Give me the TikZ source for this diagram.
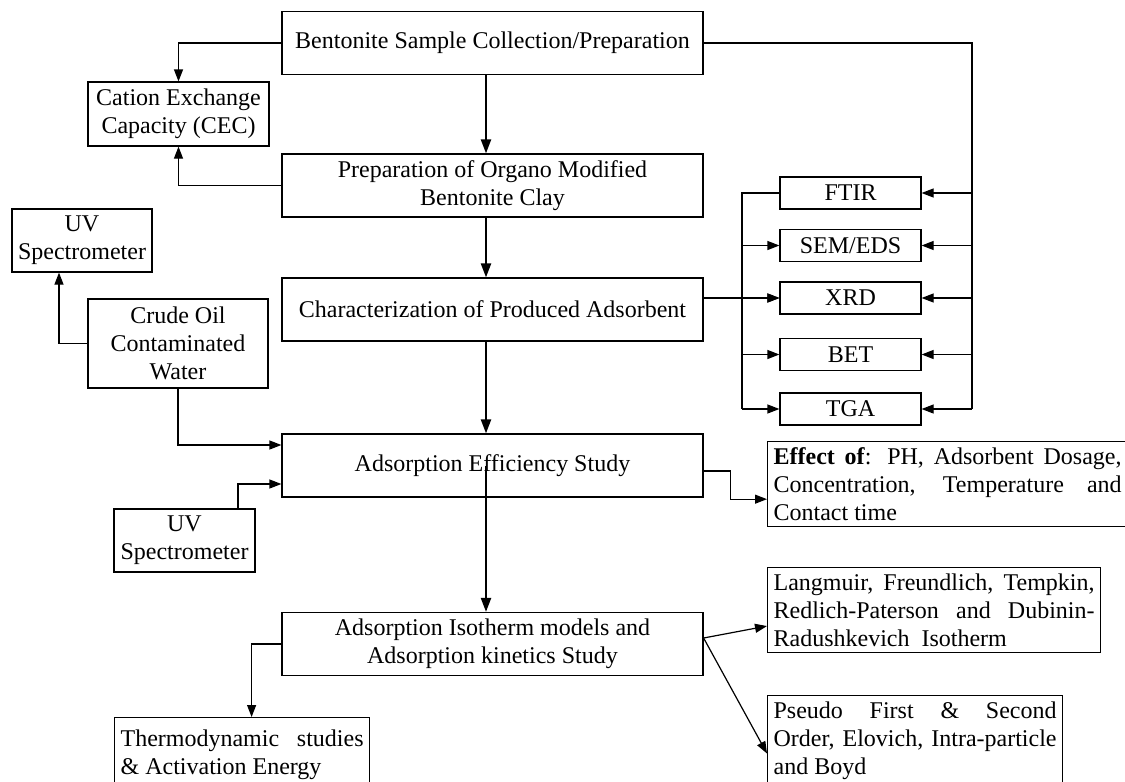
\documentclass[tikz,border=0pt]{standalone}
\usepackage{fontspec}
\setmainfont{Liberation Serif}
\usetikzlibrary{arrows.meta}

\begin{document}
\begin{tikzpicture}[x=0.5pt,y=-0.5pt,
        box/.style={draw, line width=0.6pt, inner sep=3pt, align=center, font=\fontsize{12}{14}\selectfont},
        mainbox/.style={box, minimum width=210.5pt, minimum height=31.5pt},
        testbox/.style={box, minimum width=70.5pt, minimum height=16pt},
        notebox/.style={box, anchor=north west, align=justify},
        arr/.style={line width=0.6pt, -{Triangle[length=6pt,width=4.5pt]}},
        mainarr/.style={line width=1.1pt, -{Triangle[length=7pt,width=5pt]}}]
        \useasboundingbox (0,0) rectangle (1125,782);

        % main column
        \node[mainbox] (bent) at (492.5,43) {Bentonite Sample Collection/Preparation};
        \node[mainbox] (prep) at (492.5,185.5) {Preparation of Organo Modified\\Bentonite Clay};
        \node[mainbox] (char) at (492.5,309.5) {Characterization of Produced Adsorbent};
        \node[mainbox] (eff) at (492.5,465.5) {Adsorption Efficiency Study};
        \node[mainbox] (iso) at (492.5,644) {Adsorption Isotherm models and\\Adsorption kinetics Study};

        % left side
        \node[box, minimum width=90.5pt, minimum height=32pt] (cec) at (178.5,114) {Cation Exchange\\Capacity (CEC)};
        \node[box, minimum width=90pt, minimum height=44.5pt] (crude) at (178,343.5) {Crude Oil\\Contaminated\\Water};
        \node[box, minimum width=70pt, minimum height=31.5pt] (uvone) at (82,240.5) {UV\\Spectrometer};
        \node[box, minimum width=70.5pt, minimum height=31.5pt] (uvtwo) at (184.5,540.5) {UV\\Spectrometer};
        \node[notebox, text width=121.5pt, minimum height=37pt] (thermo) at (114,717) {Thermodynamic studies\linebreak \& Activation Energy};

        % characterization tests
        \node[testbox] (ftir) at (850.5,193) {FTIR};
        \node[testbox] (sem) at (850.5,245.5) {SEM/EDS};
        \node[testbox] (xrd) at (850.5,298) {XRD};
        \node[testbox] (bet) at (850.5,354.5) {BET};
        \node[testbox] (tga) at (850.5,409) {TGA};

        % right notes
        \node[notebox, text width=174pt] (effect) at (767,441) {\textbf{Effect of}: PH, Adsorbent Dosage, Concentration, Temperature and Contact time};
        \node[notebox, text width=160.5pt] (lang) at (767,567) {Langmuir, Freundlich, Tempkin,\linebreak Redlich-Paterson and Dubinin-\linebreak Radushkevich\ \ Isotherm};
        \node[notebox, text width=141.5pt] (pseudo) at (767,695) {Pseudo First \& Second\linebreak Order, Elovich, Intra-particle\linebreak and Boyd};

        \coordinate (rbus) at (972,0);
        \coordinate (lbus) at (742,0);

        % main flow
        \draw[mainarr] ([xshift=-3.25pt]bent.south) -- ([xshift=-3.25pt]prep.north);
        \draw[mainarr] ([xshift=-3.25pt]prep.south) -- ([xshift=-3.25pt]char.north);
        \draw[mainarr] ([xshift=-3.25pt]char.south) -- ([xshift=-3.25pt]eff.north);
        \draw[mainarr] ([xshift=-3.25pt]eff.center) -- ([xshift=-3.25pt]iso.north);

        % CEC
        \draw[arr] (bent.west) -| (cec.north);
        \draw[arr] (prep.west) -| (cec.south);

        % tests
        \draw[line width=0.6pt] (bent.east) -| (rbus |- tga.east);
        \foreach \t in {ftir,sem,xrd,bet,tga}
            \draw[arr] (rbus |- \t.east) -- (\t.east);
        \draw[line width=0.6pt] (ftir.west) -| (lbus |- tga.west);
        \foreach \t in {sem,xrd,bet,tga}
            \draw[arr] (lbus |- \t.west) -- (\t.west);
        \draw[arr] (char.east |- xrd.west) -- (xrd.west);

        % water and UV
        \draw[arr] (crude.west) -| ([xshift=-11.5pt]uvone.south);
        \draw[arr] (crude.south) |- ([yshift=10.25pt]eff.west);
        \draw[arr] ([xshift=26.75pt]uvtwo.north) |- ([yshift=-9.25pt]eff.west);

        % outputs
        \draw[arr] ([yshift=-2.75pt]eff.east) -- ++(13.5pt,0pt) |- ([yshift=-7.5pt]effect.west);
        \draw[arr] ([yshift=3pt]iso.east) -- ([yshift=-8pt]lang.west);
        \draw[arr] ([yshift=3pt]iso.east) -- ([yshift=-6.5pt]pseudo.west);
        \draw[arr] (iso.west) -| ([xshift=4.75pt]thermo.north);
\end{tikzpicture}
\end{document}
